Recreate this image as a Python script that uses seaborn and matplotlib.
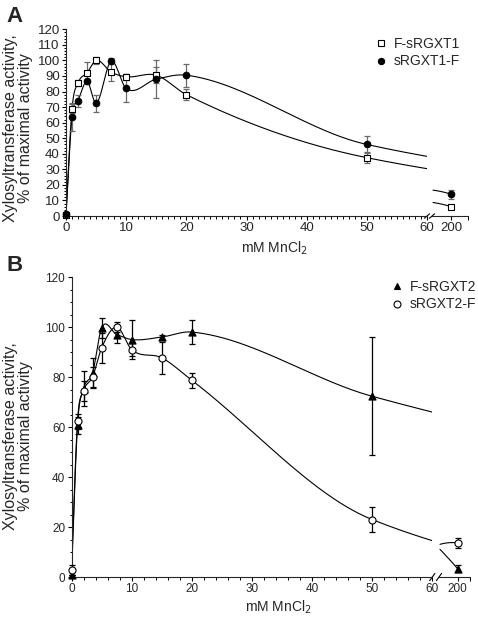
import numpy as np
import pandas as pd
import matplotlib
matplotlib.use("Agg")
import matplotlib.pyplot as plt
from matplotlib.ticker import MultipleLocator, FixedLocator
from matplotlib.lines import Line2D
import seaborn as sns

# MnCl2 concentrations (mM)
conc = [0, 1, 2, 3.5, 5, 7.5, 10, 15, 20, 50, 200]

# panel A
f_srgxt1 = [0.5, 69, 85.5, 92, 100, 92.5, 89.5, 90.5, 78, 37.5, 6]
f_srgxt1_err = [0, 3, 2, 7, 2.5, 6, 2, 5, 3.5, 3.5, 1]
srgxt1_f = [1, 63.5, 74, 86.5, 72.5, 99.5, 82, 88, 90.5, 46, 14]
srgxt1_f_err = [0, 9, 4, 0, 5.5, 2, 9, 12, 7.5, 5.5, 3]

# panel B
f_srgxt2 = [0.7, 60.7, 75.3, 81.6, 99.6, 97, 95, 96, 98, 72.3, 3.4]
f_srgxt2_err = [0, 3.3, 7, 6, 4, 3.5, 7.7, 1, 4.8, 23.6, 1.5]
srgxt2_f = [3, 62.4, 74.4, 80, 91.6, 100, 91, 87.7, 78.7, 23, 13.6]
srgxt2_f_err = [2, 3, 4, 4, 6, 2, 2.5, 6.5, 3, 5, 2]

sns.set_theme(style="ticks")
plt.rcParams["font.family"] = ["Liberation Sans", "DejaVu Sans"]
plt.rcParams["axes.linewidth"] = 0.8


def smooth_curve(x, y, xs):
    # cubic Hermite through the points, tangent = mean of the two neighbouring slopes
    x = np.asarray(x, float)
    y = np.asarray(y, float)
    n = len(x)
    d = np.diff(y) / np.diff(x)
    m = np.empty(n)
    m[0] = d[0]
    m[-1] = d[-1]
    m[1:-1] = (d[:-1] + d[1:]) / 2
    i = np.clip(np.searchsorted(x, xs, side="right") - 1, 0, n - 2)
    h = x[i + 1] - x[i]
    t = (xs - x[i]) / h
    h00 = 2 * t ** 3 - 3 * t ** 2 + 1
    h10 = t ** 3 - 2 * t ** 2 + t
    h01 = -2 * t ** 3 + 3 * t ** 2
    h11 = t ** 3 - t ** 2
    return h00 * y[i] + h10 * h * m[i] + h01 * y[i + 1] + h11 * h * m[i + 1]


def draw_series(ax_m, ax_b, vals, errs, marker, fc, size, ecolor, break_lo):
    x = np.array(conc, float)
    v = np.array(vals, float)
    e = np.array(errs, float)
    xm = np.linspace(0, 60, 800)
    xb = np.linspace(break_lo, 200, 100)
    for ax, xs in ((ax_m, xm), (ax_b, xb)):
        curve = pd.DataFrame({"x": xs, "y": smooth_curve(x, v, xs)})
        sns.lineplot(data=curve, x="x", y="y", ax=ax, color="black", lw=0.8,
                     estimator=None, sort=False, zorder=2)
    for ax, mask in ((ax_m, x <= 60), (ax_b, x > 60)):
        ax.errorbar(x[mask], v[mask], yerr=e[mask], fmt="none", ecolor=ecolor,
                    elinewidth=0.9, capsize=2.2, capthick=0.9, zorder=3, clip_on=False)
        pts = pd.DataFrame({"x": x[mask], "y": v[mask]})
        sns.scatterplot(data=pts, x="x", y="y", ax=ax, marker=marker, s=size,
                        color=fc, edgecolor="black", linewidth=0.8, zorder=4,
                        clip_on=False, legend=False)


def style_axes(ax_m, ax_b, ymaj, ymin, xmin, tick_fs, blim):
    ax_m.set_xlim(0, 60)
    ax_m.set_ylim(0, 120)
    ax_m.xaxis.set_major_locator(MultipleLocator(10))
    ax_m.xaxis.set_minor_locator(MultipleLocator(xmin))
    ax_m.yaxis.set_major_locator(MultipleLocator(ymaj))
    ax_m.yaxis.set_minor_locator(MultipleLocator(ymin))
    for a in (ax_m, ax_b):
        a.tick_params(which="major", direction="out", length=3, width=0.8,
                      labelsize=tick_fs, pad=1.5, color="black")
        a.tick_params(which="minor", direction="out", length=1.8, width=0.7, color="black")
        a.set_xlabel("")
        a.set_ylabel("")
        a.set_facecolor("none")
    sns.despine(ax=ax_m)
    ax_b.set_xlim(*blim)
    ax_b.set_ylim(0, 120)
    ax_b.xaxis.set_major_locator(FixedLocator([200]))
    ax_b.xaxis.set_minor_locator(FixedLocator([blim[1]]))
    ax_b.tick_params(which="minor", length=3)
    ax_b.set_yticks([])
    sns.despine(ax=ax_b, left=True)
    # break marks
    d = 0.012
    kw = dict(color="black", lw=0.8, clip_on=False)
    ax_m.plot([1 - d * 0.6, 1 + d * 0.6], [-0.012, 0.012], transform=ax_m.transAxes, **kw)
    wb = ax_b.get_position().width / ax_m.get_position().width
    ax_b.plot([-d * 0.6 / wb, d * 0.6 / wb], [-0.012, 0.012], transform=ax_b.transAxes, **kw)


fig = plt.figure(figsize=(4.78, 6.22), dpi=100)

# ---- panel A ----
axA = fig.add_axes([0.1381, 0.6527, 0.7552, 0.3002])
axA2 = fig.add_axes([0.9038, 0.6527, 0.0753, 0.3002])
blimA = (181, 217)
draw_series(axA, axA2, f_srgxt1, f_srgxt1_err, "s", "white", 16, "#6a6a6a", blimA[0] + 1)
draw_series(axA, axA2, srgxt1_f, srgxt1_f_err, "o", "black", 22, "#6a6a6a", blimA[0] + 1)
style_axes(axA, axA2, 10, 2, 1, 9.5, blimA)
axA.set_ylabel("Xylosyltransferase activity,\n% of maximal activity", fontsize=11.5,
               linespacing=1.0)
axA.yaxis.set_label_coords(-0.091, 0.47)
axA.legend(handles=[
    Line2D([], [], marker="s", ls="", mfc="white", mec="black", ms=4, mew=0.8, label="F-sRGXT1"),
    Line2D([], [], marker="o", ls="", mfc="black", mec="black", ms=4.5, mew=0.8, label="sRGXT1-F")],
    loc="upper left", bbox_to_anchor=(377 / 478, 1 - 37 / 622), bbox_transform=fig.transFigure,
    frameon=False, fontsize=10, handlelength=0.6, handletextpad=0.6, labelspacing=0.25,
    borderpad=0, borderaxespad=0)
fig.text(274 / 478, 1 - 248 / 622, "mM MnCl$_2$", ha="center", va="center", fontsize=10)
fig.text(6 / 478, 1 - 16 / 622, "A", fontsize=16, fontweight="bold", va="center")

# ---- panel B ----
axB = fig.add_axes([0.1496, 0.0723, 0.7548, 0.4823])
axB2 = fig.add_axes([0.9184, 0.0723, 0.0649, 0.4823])
blimB = (181.5, 212.5)
draw_series(axB, axB2, f_srgxt2, f_srgxt2_err, "^", "black", 26, "black", blimB[0] + 1)
draw_series(axB, axB2, srgxt2_f, srgxt2_f_err, "o", "white", 26, "black", blimB[0] + 1)
style_axes(axB, axB2, 20, 5, 2, 8.5, blimB)
axB.set_ylabel("Xylosyltransferase activity,\n% of maximal activity", fontsize=11.5,
               linespacing=1.0)
axB.yaxis.set_label_coords(-0.107, 0.47)
axB.legend(handles=[
    Line2D([], [], marker="^", ls="", mfc="black", mec="black", ms=5, mew=0.8, label="F-sRGXT2"),
    Line2D([], [], marker="o", ls="", mfc="white", mec="black", ms=5, mew=0.8, label="sRGXT2-F")],
    loc="upper left", bbox_to_anchor=(393 / 478, 1 - 280 / 622), bbox_transform=fig.transFigure,
    frameon=False, fontsize=10, handlelength=0.6, handletextpad=0.6, labelspacing=0.25,
    borderpad=0, borderaxespad=0)
fig.text(278 / 478, 1 - 607 / 622, "mM MnCl$_2$", ha="center", va="center", fontsize=10)
fig.text(7 / 478, 1 - 266 / 622, "B", fontsize=16, fontweight="bold", va="center")

fig.savefig("out.png", dpi=100)
plt.close(fig)
